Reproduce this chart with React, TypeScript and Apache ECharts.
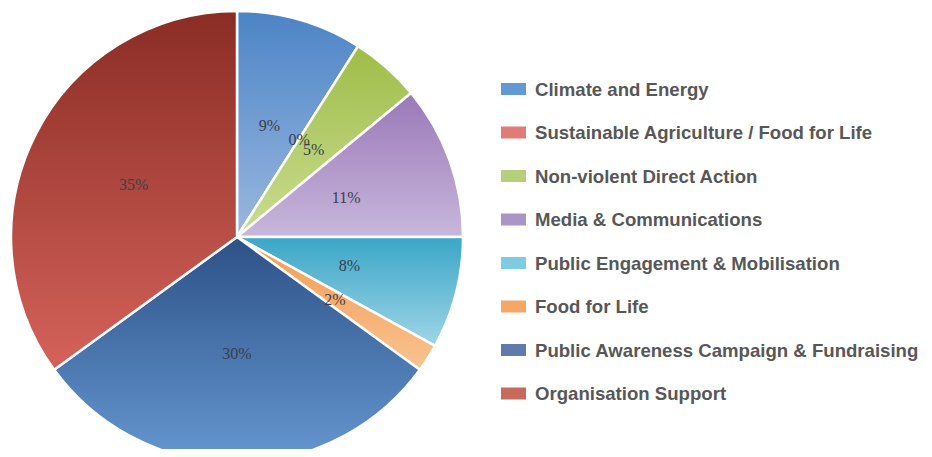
import React, { useEffect, useRef } from "react";
import * as echarts from "echarts";

const categories = [
  "Climate and Energy",
  "Sustainable Agriculture / Food for Life",
  "Non-violent Direct Action",
  "Media & Communications",
  "Public Engagement & Mobilisation",
  "Food for Life",
  "Public Awareness Campaign & Fundraising",
  "Organisation Support",
];
const values = [9, 0, 5, 11, 8, 2, 30, 35];

const legendColors = ["#6399d3", "#e07b78", "#b5cf7b", "#a995c6", "#7ecbe2", "#f6a765", "#5f7aab", "#c76a5e"];
const topColors = ["#4c84c6", "#d9605c", "#9fbd48", "#9a78b8", "#3aa6c7", "#f39a52", "#2c5187", "#8a2d25"];
const bottomColors = ["#9ab8e0", "#ec9a96", "#cadd92", "#c8b7db", "#9fd5e7", "#f9c390", "#6697d1", "#d4625a"];

export default function App() {
  const ref = useRef<HTMLDivElement>(null);
  useEffect(() => {
    if (!ref.current) return;
    const chart = echarts.init(ref.current, undefined, { renderer: "svg" });
    chart.setOption({
      animation: false,
      legend: {
        orient: "vertical",
        left: 486,
        top: 65.5,
        itemWidth: 27,
        itemHeight: 14,
        itemGap: 22.5,
        icon: "rect",
        selectedMode: false,
        textStyle: {
          fontFamily: "Liberation Sans, Arial, sans-serif",
          fontWeight: "bold",
          fontSize: 18.6,
          lineHeight: 21,
          color: "#575757",
          padding: [0, 0, 0, 3],
        },
        data: categories.map((c, i) => ({ name: c, itemStyle: { color: legendColors[i] } })),
      },
      series: [
        {
          type: "pie",
          center: [229, 229],
          radius: [0, 226],
          startAngle: 90,
          clockwise: true,
          minShowLabelAngle: -1,
          avoidLabelOverlap: false,
          labelLayout: { hideOverlap: false },
          itemStyle: { borderColor: "#ffffff", borderWidth: 2.5 },
          label: {
            show: true,
            position: "inner",
            formatter: (p: any) => p.value + "%",
            fontFamily: "Liberation Serif, DejaVu Serif, serif",
            fontSize: 16,
            color: "#3a3f4a",
            overflow: "none",
          },
          labelLine: { show: false },
          emphasis: { disabled: true },
          data: categories.map((c, i) => ({
            name: c,
            value: values[i],
            itemStyle: {
              color: new echarts.graphic.LinearGradient(0, 0, 0, 1, [
                { offset: 0, color: topColors[i] },
                { offset: 1, color: bottomColors[i] },
              ]),
            },
          })),
        },
      ],
    });
    return () => chart.dispose();
  }, []);
  return <div ref={ref} style={{ width: 916, height: 441 }} />;
}
